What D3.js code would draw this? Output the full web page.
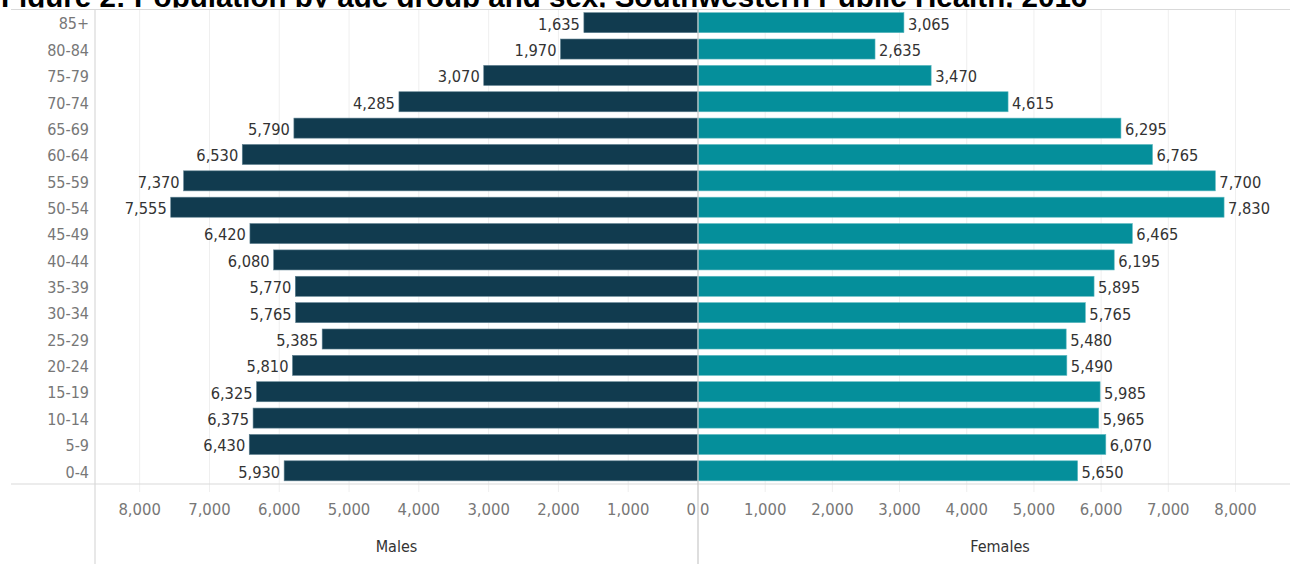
<!DOCTYPE html>
<html>
<head>
  <meta charset="UTF-8">
  <style>
    body { margin: 0; background: #fff; }
    svg { display: block; }
  </style>
</head>
<body>
<svg></svg>
<script src="https://d3js.org/d3.v7.min.js"></script>
<script>

let width = 1290, height = 564;

// data
let ages = ["85+", "80-84", "75-79", "70-74", "65-69", "60-64", "55-59", "50-54", "45-49",
            "40-44", "35-39", "30-34", "25-29", "20-24", "15-19", "10-14", "5-9", "0-4"];
let males = [1635, 1970, 3070, 4285, 5790, 6530, 7370, 7555, 6420,
             6080, 5770, 5765, 5385, 5810, 6325, 6375, 6430, 5930];
let females = [3065, 2635, 3470, 4615, 6295, 6765, 7700, 7830, 6465,
               6195, 5895, 5765, 5480, 5490, 5985, 5965, 6070, 5650];
let tickValues = [0, 1000, 2000, 3000, 4000, 5000, 6000, 7000, 8000];
let titleText = "Figure 2: Population by age group and sex, Southwestern Public Health, 2016";

let rows = ages.map((a, i) => ({ age: a, m: males[i], f: females[i] }));

let font = "'DejaVu Sans Condensed', 'Liberation Sans Narrow', sans-serif";
let plotTop = 9.5, plotBottom = 484, axisX = 95, mid = 698;

let svg = d3.select("svg")
    .attr("width", width)
    .attr("height", height)
    .attr("viewBox", "0 0 " + width + " " + height);

let y = d3.scaleBand().domain(ages).range([plotTop, plotBottom]).paddingInner(0.24).paddingOuter(0.12);
let xL = d3.scaleLinear().domain([0, 8640]).range([mid, axisX]);
let xR = d3.scaleLinear().domain([0, 8990]).range([mid, 1302]);

let fmt = d3.format(",");

// title, cut off at the top like the original
svg.append("defs").append("clipPath").attr("id", "titleclip")
    .append("rect").attr("x", 0).attr("y", 0).attr("width", width).attr("height", 7.5);

let title = svg.append("text")
    .attr("clip-path", "url(#titleclip)")
    .attr("x", 1)
    .attr("y", 7)
    .attr("font-family", "'Liberation Sans', Arial, sans-serif")
    .attr("font-weight", "bold")
    .attr("font-size", 20)
    .attr("fill", "#000")
    .text(titleText);
let tw = title.node().getComputedTextLength();
title.attr("font-size", 20 * 1087 / tw);

// gridlines
let grid = svg.append("g").attr("stroke", "#efefef").attr("stroke-width", 1);
tickValues.slice(1).forEach(t => {
    grid.append("line").attr("x1", xL(t)).attr("x2", xL(t)).attr("y1", plotTop).attr("y2", plotBottom + 8);
    grid.append("line").attr("x1", xR(t)).attr("x2", xR(t)).attr("y1", plotTop).attr("y2", plotBottom + 8);
});

// bars
svg.append("g").selectAll("rect")
    .data(rows)
    .enter()
    .append("rect")
    .attr("x", d => xL(d.m))
    .attr("y", d => y(d.age))
    .attr("width", d => mid - xL(d.m))
    .attr("height", y.bandwidth())
    .attr("fill", "#113b4f")
    .attr("stroke", "#5f8090")
    .attr("stroke-width", 0.6);

svg.append("g").selectAll("rect")
    .data(rows)
    .enter()
    .append("rect")
    .attr("x", mid)
    .attr("y", d => y(d.age))
    .attr("width", d => xR(d.f) - mid)
    .attr("height", y.bandwidth())
    .attr("fill", "#058f9b")
    .attr("stroke", "#5fb9c0")
    .attr("stroke-width", 0.6);

// value labels
svg.append("g").selectAll("text")
    .data(rows)
    .enter()
    .append("text")
    .attr("x", d => xL(d.m) - 4)
    .attr("y", d => y(d.age) + y.bandwidth() / 2 + 1)
    .attr("dy", "0.36em")
    .attr("text-anchor", "end")
    .attr("font-family", font)
    .attr("font-size", 16.3)
    .attr("fill", "#333")
    .text(d => fmt(d.m));

svg.append("g").selectAll("text")
    .data(rows)
    .enter()
    .append("text")
    .attr("x", d => xR(d.f) + 4)
    .attr("y", d => y(d.age) + y.bandwidth() / 2 + 1)
    .attr("dy", "0.36em")
    .attr("font-family", font)
    .attr("font-size", 16.3)
    .attr("fill", "#333")
    .text(d => fmt(d.f));

// row labels
svg.append("g").selectAll("text")
    .data(ages)
    .enter()
    .append("text")
    .attr("x", 89)
    .attr("y", d => y(d) + y.bandwidth() / 2 + 1)
    .attr("dy", "0.36em")
    .attr("text-anchor", "end")
    .attr("font-family", font)
    .attr("font-size", 16)
    .attr("fill", "#777")
    .text(d => d);

// frame lines
let frame = svg.append("g").attr("stroke", "#d9d9d9").attr("stroke-width", 1.2);
frame.append("line").attr("x1", 11).attr("x2", width).attr("y1", plotTop).attr("y2", plotTop);
frame.append("line").attr("x1", 11).attr("x2", width).attr("y1", plotBottom).attr("y2", plotBottom);
frame.append("line").attr("x1", axisX).attr("x2", axisX).attr("y1", plotTop).attr("y2", height);
frame.append("line").attr("x1", mid).attr("x2", mid).attr("y1", plotTop).attr("y2", height)
    .attr("stroke", "#c8c8c8");

// tick labels
let tickG = svg.append("g")
    .attr("font-family", font)
    .attr("font-size", 16.5)
    .attr("fill", "#777");

tickG.selectAll(".tl")
    .data(tickValues)
    .enter()
    .append("text")
    .attr("x", d => d === 0 ? mid - 2 : xL(d))
    .attr("y", 509)
    .attr("dy", "0.36em")
    .attr("text-anchor", d => d === 0 ? "end" : "middle")
    .text(d => fmt(d));

tickG.selectAll(".tr")
    .data(tickValues)
    .enter()
    .append("text")
    .attr("x", d => d === 0 ? mid + 2 : xR(d))
    .attr("y", 509)
    .attr("dy", "0.36em")
    .attr("text-anchor", d => d === 0 ? "start" : "middle")
    .text(d => fmt(d));

// axis titles
svg.append("text")
    .attr("x", (axisX + mid) / 2)
    .attr("y", 546)
    .attr("dy", "0.36em")
    .attr("text-anchor", "middle")
    .attr("font-family", font)
    .attr("font-size", 16)
    .attr("fill", "#333")
    .text("Males");

svg.append("text")
    .attr("x", (mid + 1302) / 2)
    .attr("y", 546)
    .attr("dy", "0.36em")
    .attr("text-anchor", "middle")
    .attr("font-family", font)
    .attr("font-size", 16)
    .attr("fill", "#333")
    .text("Females");

</script>
</body>
</html>
